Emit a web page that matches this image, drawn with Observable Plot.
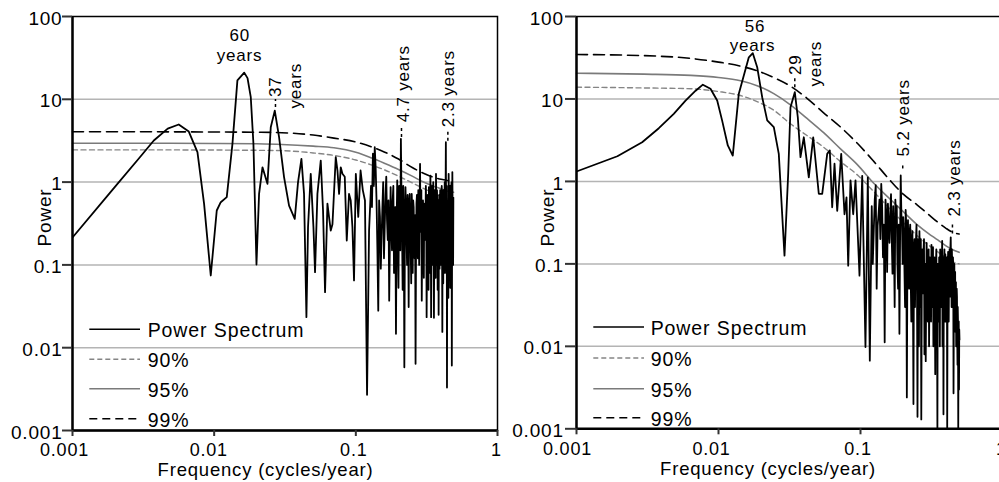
<!DOCTYPE html>
<html><head><meta charset="utf-8">
<script src="https://cdn.jsdelivr.net/npm/d3@7"></script>
<script src="https://cdn.jsdelivr.net/npm/@observablehq/plot@0.6"></script>
<style>
html,body{margin:0;padding:0;background:#fff;overflow:hidden;}
#wrap{position:relative;width:999px;height:482px;overflow:hidden;background:#fff;}
.panel{position:absolute;top:0;}
svg text{font-family:"Liberation Sans",Arial,Helvetica,sans-serif;}
</style></head><body><div id="wrap"></div>
<script>
// ---------- axis ticks ----------
const yTicks = [0.001, 0.01, 0.1, 1, 10, 100];
const yTickLabels = ["0.001", "0.01", "0.1", "1", "10", "100"];
const xTicks = [0.001, 0.01, 0.1, 1];
const xTickLabels = ["0.001", "0.01", "0.1", "1"];
const gridValues = [0.01, 0.1, 1, 10];
const legendLabels = ["Power Spectrum", "90%", "95%", "99%"];

// ---------- left panel: power spectrum [frequency, power] ----------
const leftSpectrum = [
[0.001,0.214],[0.002,0.88],[0.003,2.01],[0.00375,3.18],[0.0047,4.43],[0.00562,4.96],[0.00662,4.08],[0.00762,2.3],
[0.00849,0.547],[0.00946,0.0745],[0.01043,0.454],[0.01113,0.572],[0.01227,0.658],[0.01346,2.9],[0.01459,16.9],[0.0163,21],
[0.0172,18],[0.01813,10.6],[0.01893,2.9],[0.01989,0.101],[0.02075,0.722],[0.02193,1.51],[0.02378,0.953],[0.02509,4.6],
[0.02678,7.3],[0.02872,3.5],[0.03114,1.15],[0.03378,0.52],[0.03705,0.36],[0.03909,1.0],[0.0413,1.91],[0.04309,0.72],
[0.04479,0.0234],[0.04598,0.285],[0.04805,1.26],[0.05021,0.285],[0.05152,0.0817],[0.05356,0.72],[0.05654,1.82],[0.05868,0.454],
[0.06063,0.0468],[0.06303,0.55],[0.06471,0.377],[0.06653,0.26],[0.06839,0.31],[0.07215,2.0],[0.07418,1.38],[0.07615,0.72],
[0.07826,1.51],[0.08043,1.26],[0.08352,1.16],[0.08628,0.197],[0.08954,0.72],[0.09204,0.6],[0.09462,0.285],[0.0971,0.065],
[0.100,1.26],[0.104,0.38],[0.108,1.38],[0.112,0.8],[0.116,0.6],[0.120,0.0027],[0.124,0.26],[0.128,0.9],
[0.132,2.2],[0.136,2.64],[0.140,0.6],[0.144,0.028],[0.148,0.38],[0.152,0.215],[0.156,1.0],[0.160,0.3],
[0.164,1.16],[0.168,0.2],[0.172,0.037],[0.176,0.87],[0.180,0.15],[0.184,0.9],[0.188,0.4],[0.192,0.0147],
[0.196,1.05],[0.200,0.053],[0.204,0.6],[0.208,3.33],[0.212,0.25],[0.216,0.9],[0.220,0.0058],[0.224,0.87],
[0.228,0.2],[0.232,0.7],[0.236,0.031],[0.240,0.72],[0.244,0.15],[0.248,0.72],[0.252,0.08],[0.256,0.5],
[0.260,0.12],[0.264,0.0064],[0.268,0.55],[0.272,0.3],[0.276,0.8],[0.280,0.1],[0.284,1.66],[0.288,0.5],
[0.292,0.037],[0.296,0.5],[0.300,0.15],[0.304,0.55],[0.308,0.2],[0.312,0.9],[0.316,0.0234],[0.320,0.6],
[0.324,0.2],[0.328,0.87],[0.332,0.08],[0.336,1.2],[0.340,0.0234],[0.344,0.6],[0.348,0.25],[0.352,1.0],
[0.356,0.023],[0.360,0.8],[0.364,0.3],[0.368,1.26],[0.372,0.1],[0.376,0.5],[0.380,0.2],[0.384,0.025],
[0.388,0.7],[0.392,0.3],[0.396,0.65],[0.400,0.1],[0.404,0.9],[0.408,0.0155],[0.412,0.4],[0.416,0.8],
[0.420,0.2],[0.424,1.0],[0.428,0.3],[0.432,3.03],[0.436,0.4],[0.440,0.0033],[0.444,0.6],[0.448,0.1],
[0.452,1.26],[0.456,0.2],[0.460,0.7],[0.464,0.053],[0.468,0.5],[0.472,0.9],[0.476,0.0061],[0.480,1.32],
[0.484,0.3],[0.488,0.65]
];
// finer harmonics of the dense high-frequency part
const leftSpectrumFine = [
[0.130,0.5],[0.134,0.9],[0.138,1.5],[0.142,0.15],[0.146,0.6],[0.150,0.09],[0.154,0.5],[0.158,0.12],
[0.162,0.7],[0.166,0.35],[0.170,0.6],[0.174,0.2],[0.178,0.3],[0.182,0.6],[0.186,0.08],[0.190,0.5],
[0.194,0.3],[0.198,0.2],[0.202,0.9],[0.206,0.15],[0.210,0.7],[0.214,0.05],[0.218,0.4],[0.222,0.25],
[0.226,0.5],[0.230,0.1],[0.234,0.4],[0.238,0.5],[0.242,0.3],[0.246,0.06],[0.250,0.45],[0.254,0.6],
[0.258,0.2],[0.262,0.4],[0.266,0.15],[0.270,0.7],[0.274,0.12],[0.278,0.35],[0.282,0.5],[0.286,0.25],
[0.290,0.8],[0.294,0.2],[0.298,0.6],[0.302,0.07],[0.306,0.4],[0.310,0.3],[0.314,0.5],[0.318,0.15],
[0.322,0.7],[0.326,0.05],[0.330,0.45],[0.334,0.3],[0.338,0.5],[0.342,0.15],[0.346,0.9],[0.350,0.1],
[0.354,0.5],[0.358,0.3],[0.362,0.6],[0.366,0.07],[0.370,0.5],[0.374,0.8],[0.378,0.05],[0.382,0.6],
[0.386,0.3],[0.390,0.09],[0.394,0.8],[0.398,0.3],[0.402,0.5],[0.406,0.2],[0.410,0.7],[0.414,0.06],
[0.418,0.4],[0.422,0.5],[0.426,0.08],[0.430,0.7],[0.434,0.2],[0.438,0.9],[0.442,0.3],[0.446,0.5],
[0.450,0.04],[0.454,0.6],[0.458,0.3],[0.462,0.9],[0.466,0.15],[0.470,0.3],[0.474,1.0],[0.478,0.2],
[0.482,0.5],[0.486,0.1]
];
// significance levels [frequency, 90%, 95%, 99%]
const leftThresholds = [
[0.001,2.45,2.95,4.05],[0.003,2.45,2.95,4.05],[0.01,2.44,2.93,4.03],[0.02,2.42,2.9,4.0],[0.03,2.4,2.85,3.95],
[0.05,2.25,2.72,3.7],[0.07,2.1,2.6,3.4],[0.1,1.85,2.3,3.05],[0.13,1.6,1.95,2.65],[0.16,1.4,1.68,2.3],
[0.2,1.18,1.42,1.9],[0.25,0.98,1.18,1.5],[0.3,0.84,1.0,1.28],[0.35,0.74,0.9,1.15],[0.4,0.67,0.83,1.08],
[0.45,0.62,0.77,1.04],[0.49,0.61,0.755,1.03]
];
const leftPeaks = [
  {f:0.0163, p:21, lines:["60","years"]},
  {f:0.02678, p:7.3, lines:["37","years"]},
  {f:0.208, p:3.33, lines:["4.7 years"]},
  {f:0.432, p:3.03, lines:["2.3 years"]}
];

// ---------- right panel ----------
const rightSpectrum = [
[0.001,1.32],[0.00194,2.02],[0.0029,2.99],[0.0038,4.42],[0.00484,6.6],[0.00586,9.57],[0.0069,12.6],[0.00776,14.9],
[0.00878,13.3],[0.00979,9.57],[0.0106,5.5],[0.01163,2.73],[0.0126,2.06],[0.0139,11.6],[0.01635,32],[0.01744,35.9],
[0.01873,24.3],[0.02031,10.5],[0.02203,5.5],[0.02452,4.55],[0.02658,2.16],[0.02916,0.126],[0.03096,1.24],[0.03214,7.94],
[0.03446,12.1],[0.03618,6.0],[0.03779,1.97],[0.03988,3.43],[0.04324,1.12],[0.04645,3.43],[0.05085,0.708],[0.05374,0.708],
[0.05829,2.16],[0.06078,2.38],[0.06319,0.486],[0.06561,1.64],[0.06855,0.44],[0.07314,2.16],[0.07716,0.4],[0.0797,0.64],
[0.08193,0.095],[0.08504,1.03],[0.08885,0.4],[0.09222,1.03],[0.0984,0.072],[0.1028,1.17],[0.1084,0.0098],[0.1126,1.12],
[0.1163,0.0067],
[0.120,0.5],[0.124,0.254],[0.128,0.9],[0.132,0.29],[0.136,0.6],[0.140,0.935],[0.144,0.12],[0.148,0.0112],
[0.152,0.4],[0.156,0.536],[0.160,0.18],[0.164,0.7],[0.168,0.076],[0.172,0.19],[0.176,0.6],[0.180,0.5],
[0.184,0.05],[0.188,0.0142],[0.192,1.18],[0.196,0.3],[0.200,0.37],[0.204,0.08],[0.208,0.45],[0.212,0.0024],
[0.216,0.34],[0.220,0.05],[0.224,0.3],[0.228,0.02],[0.232,0.25],[0.236,0.002],[0.240,0.2],[0.244,0.1],
[0.248,0.3],[0.252,0.0014],[0.256,0.076],[0.260,0.25],[0.264,0.03],[0.268,0.0013],[0.272,0.15],[0.276,0.044],
[0.280,0.2],[0.284,0.02],[0.288,0.0066],[0.292,0.18],[0.296,0.05],[0.300,0.13],[0.304,0.01],[0.308,0.12],
[0.312,0.076],[0.316,0.17],[0.320,0.03],[0.324,0.16],[0.328,0.05],[0.332,0.12],[0.336,0.0046],[0.340,0.1],
[0.344,0.03],[0.348,0.001],[0.352,0.08],[0.356,0.02],[0.360,0.09],[0.364,0.15],[0.368,0.03],[0.372,0.12],
[0.376,0.19],[0.380,0.04],[0.384,0.0015],[0.388,0.1],[0.392,0.05],[0.396,0.13],[0.400,0.02],[0.404,0.11],
[0.408,0.001],[0.412,0.09],[0.416,0.04],[0.420,0.063],[0.424,0.15],[0.428,0.05],[0.432,0.21],[0.436,0.08],
[0.440,0.15],[0.444,0.03],[0.448,0.12],[0.452,0.0027],[0.456,0.06],[0.460,0.02],[0.464,0.08],[0.468,0.037],
[0.472,0.01],[0.476,0.05],[0.480,0.012],[0.484,0.03],[0.488,0.001],[0.492,0.02],[0.496,0.016]
];
const rightSpectrumFine = [
[0.122,0.1],[0.126,0.6],[0.130,0.05],[0.134,0.4],[0.138,0.2],[0.142,0.5],[0.146,0.3],[0.150,0.6],
[0.154,0.08],[0.158,0.3],[0.162,0.4],[0.166,0.2],[0.170,0.5],[0.174,0.03],[0.178,0.35],[0.182,0.1],
[0.186,0.3],[0.190,0.2],[0.194,0.4],[0.198,0.1],[0.202,0.25],[0.206,0.03],[0.210,0.3],[0.214,0.12],
[0.218,0.08],[0.222,0.25],[0.226,0.06],[0.230,0.2],[0.234,0.05],[0.238,0.15],[0.242,0.03],[0.246,0.2],
[0.250,0.05],[0.254,0.2],[0.258,0.01],[0.262,0.12],[0.266,0.2],[0.270,0.04],[0.274,0.1],[0.278,0.15],
[0.282,0.008],[0.286,0.1],[0.290,0.04],[0.294,0.12],[0.298,0.02],[0.302,0.15],[0.306,0.05],[0.310,0.1],
[0.314,0.02],[0.318,0.08],[0.322,0.12],[0.326,0.01],[0.330,0.1],[0.334,0.04],[0.338,0.09],[0.342,0.15],
[0.346,0.02],[0.350,0.1],[0.354,0.05],[0.358,0.12],[0.362,0.01],[0.366,0.08],[0.370,0.05],[0.374,0.1],
[0.378,0.01],[0.382,0.12],[0.386,0.06],[0.390,0.15],[0.394,0.02],[0.398,0.09],[0.402,0.05],[0.406,0.12],
[0.410,0.03],[0.414,0.14],[0.418,0.02],[0.422,0.1],[0.426,0.04],[0.430,0.16],[0.434,0.1],[0.438,0.03],
[0.442,0.1],[0.446,0.05],[0.450,0.09],[0.454,0.02],[0.458,0.1],[0.462,0.04],[0.466,0.015],[0.470,0.06],
[0.474,0.02],[0.478,0.04],[0.482,0.006],[0.486,0.02],[0.490,0.01],[0.494,0.003],[0.498,0.012]
];
const rightThresholds = [
[0.001,13.9,20.5,34.6],[0.003,13.6,20,33.5],[0.0064,13.3,19.3,31],[0.01,12.3,18.2,28],[0.0143,11,16.6,25],
[0.0187,9.3,14.5,22],[0.0245,7.3,11.6,18.2],[0.0321,5.0,8.5,14.3],[0.042,3.6,5.8,10.2],[0.055,2.6,3.9,6.8],
[0.072,1.75,2.5,4.6],[0.095,1.2,1.6,2.9],[0.124,0.75,0.95,1.75],[0.16,0.47,0.62,1.05],[0.2,0.32,0.43,0.7],
[0.25,0.22,0.3,0.52],[0.3,0.17,0.235,0.4],[0.35,0.14,0.195,0.32],[0.4,0.12,0.165,0.27],[0.45,0.105,0.147,0.24],
[0.495,0.10,0.138,0.23]
];
const rightPeaks = [
  {f:0.01744, p:35.9, lines:["56","years"]},
  {f:0.03446, p:12.1, lines:["29","years"]},
  {f:0.192, p:1.18, lines:["5.2 years"]},
  {f:0.432, p:0.21, lines:["2.3 years"]}
];

// ---------- layout (screen offsets, not data) ----------
const leftLayout = [
  {rotate:0, anchor:"middle", offsets:[[-4.4,-31.4],[-4.7,-12]]},
  {rotate:-90, anchor:"middle", offsets:[[6.2,-23.8],[26.2,-24.8]], marker:[1.09,1.36], markerDx:0.7},
  {rotate:-90, anchor:"start", offsets:[[8.1,-16.6]], marker:[1.04,1.42], markerDx:0.6},
  {rotate:-90, anchor:"start", offsets:[[8.5,-15]], marker:[1.03,1.38], markerDx:2}
];
const rightLayout = [
  {rotate:0, anchor:"middle", offsets:[[2.2,-21.6],[-0.3,-2.4]]},
  {rotate:-90, anchor:"middle", offsets:[[6.2,-27.5],[26.2,-28.4]], marker:[1.13,1.52], markerDx:0},
  {rotate:-90, anchor:"start", offsets:[[8.2,-19.1]], marker:[1.2,1.41], markerDx:2},
  {rotate:-90, anchor:"start", offsets:[[9.5,-20.8]], marker:[1.1,1.52], markerDx:1.7}
];

const font = '"Liberation Sans", Arial, Helvetica, sans-serif';

function panel(o) {
  const spec = o.spectrum.concat(o.fine).map(([f, p]) => ({f, p})).sort((a, b) => a.f - b.f);
  const thr = o.thresholds.map(([f, a, b, c]) => ({f, p90: a, p95: b, p99: c}));
  const marks = [
    Plot.ruleY(gridValues, {stroke: "#b4b4b4", strokeWidth: 1.5}),
    Plot.line(thr, {x: "f", y: "p90", stroke: "#858585", strokeWidth: 1.4, strokeDasharray: "5,3.5", curve: "monotone-x"}),
    Plot.line(thr, {x: "f", y: "p95", stroke: "#7a7a7a", strokeWidth: 1.6, curve: "monotone-x"}),
    Plot.line(thr, {x: "f", y: "p99", stroke: "#000", strokeWidth: 1.6, strokeDasharray: "11,6", curve: "monotone-x"}),
    Plot.line(spec, {x: "f", y: "p", stroke: "#000", strokeWidth: 1.8, clip: true}),
    Plot.frame({stroke: "#000", strokeWidth: 1.5}),
    Plot.ruleX([0.001], {stroke: "#000", strokeWidth: 2.4}),
    Plot.ruleY([0.001], {stroke: "#000", strokeWidth: 2.4}),
    Plot.axisY({ticks: yTicks, tickSize: o.yTickSize, tickFormat: () => "", stroke: "#333", strokeWidth: 2, label: null}),
    Plot.axisY({ticks: yTicks, tickSize: 0, tickPadding: o.yLabelPad, tickFormat: d => yTickLabels[yTicks.indexOf(d)], dy: 2, fontSize: 19, label: null}),
    Plot.axisX({ticks: xTicks, tickSize: 6, tickFormat: () => "", stroke: "#333", strokeWidth: 2, label: null}),
    ...xTicks.map((t, i) => Plot.text([t], {x: d => d, frameAnchor: "bottom", text: () => xTickLabels[i], lineAnchor: "bottom", dy: o.xLabelDy, dx: o.xLabelDx[i], fontSize: 18})),
    Plot.text(["Frequency (cycles/year)"], {frameAnchor: "bottom", text: d => d, lineAnchor: "bottom", dx: o.titleDx, dy: o.titleDy, fontSize: 18.5}),
    Plot.text(["Power"], {frameAnchor: "left", text: d => d, rotate: -90, textAnchor: "middle", lineAnchor: "bottom", dx: o.powerDx, dy: o.powerDy, fontSize: 19})
  ];
  o.peaks.forEach((pk, k) => {
    const L = o.layout[k];
    pk.lines.forEach((line, j) => {
      marks.push(Plot.text([pk], {x: "f", y: "p", text: () => line, rotate: L.rotate, textAnchor: L.anchor, lineAnchor: "bottom", dx: L.offsets[j][0], dy: L.offsets[j][1], fontSize: 17}));
    });
    if (L.marker) {
      marks.push(Plot.ruleX([pk], {x: "f", y1: d => d.p * L.marker[0], y2: d => d.p * L.marker[1], dx: L.markerDx, stroke: "#000", strokeWidth: 1.5, strokeDasharray: "3,3"}));
    }
  });
  return Plot.plot({
    width: o.width, height: 482,
    marginLeft: o.marginLeft, marginRight: o.marginRight, marginTop: 16, marginBottom: o.marginBottom,
    x: {type: "log", domain: [0.001, 1]},
    y: {type: "log", domain: [0.001, 100]},
    style: {fontFamily: font, fontSize: "19px", letterSpacing: "0.8px", background: "transparent", maxWidth: "none", overflow: "visible"},
    marks
  });
}

const wrap = document.getElementById("wrap");
const left = panel({
  spectrum: leftSpectrum, fine: leftSpectrumFine, thresholds: leftThresholds, peaks: leftPeaks, layout: leftLayout,
  width: 500, marginLeft: 72, marginRight: 3, marginBottom: 52,
  yTickSize: 10, yLabelPad: 10, xLabelDx: [-8, -5.4, -2, -1], xLabelDy: 25,
  titleDx: -19.5, titleDy: 45.5, powerDx: -22, powerDy: -6
});
const right = panel({
  spectrum: rightSpectrum, fine: rightSpectrumFine, thresholds: rightThresholds, peaks: rightPeaks, layout: rightLayout,
  width: 505, marginLeft: 76, marginRight: 3, marginBottom: 53.7,
  yTickSize: 11, yLabelPad: 12.7, xLabelDx: [-9, -7, -2.5, -1], xLabelDy: 25.7,
  titleDx: -21.5, titleDy: 46.2, powerDx: -23, powerDy: -5
});
const lw = document.createElement("div"); lw.className = "panel"; lw.style.left = "0px"; lw.appendChild(left);
const rw = document.createElement("div"); rw.className = "panel"; rw.style.left = "500px"; rw.appendChild(right);
wrap.appendChild(lw); wrap.appendChild(rw);

// ---------- legends (overlay) ----------
const legendStyles = [
  {stroke: "#000", dash: null, w: 1.6},
  {stroke: "#858585", dash: "5,3", w: 1.4},
  {stroke: "#7a7a7a", dash: null, w: 1.6},
  {stroke: "#000", dash: "8,5", w: 1.6}
];
const legendBoxes = [
  {x1: 89.3, x2: 140, tx: 147.7, base: [337.3, 367.3, 396.7, 426.7]},
  {x1: 593.3, x2: 644, tx: 650.7, base: [335, 366, 396.7, 425.7]}
];
const ov = d3.select(wrap).append("svg").attr("width", 999).attr("height", 482)
  .style("position", "absolute").style("left", 0).style("top", 0).style("pointer-events", "none");
legendBoxes.forEach(b => {
  legendLabels.forEach((lab, i) => {
    const s = legendStyles[i];
    ov.append("line").attr("x1", b.x1).attr("x2", b.x2).attr("y1", b.base[i] - 8).attr("y2", b.base[i] - 8)
      .attr("stroke", s.stroke).attr("stroke-width", s.w).attr("stroke-dasharray", s.dash);
    ov.append("text").attr("x", b.tx).attr("y", b.base[i]).text(lab)
      .style("font-family", font).style("font-size", "19.5px").style("letter-spacing", "0.9px").attr("fill", "#000");
  });
});
</script></body></html>
